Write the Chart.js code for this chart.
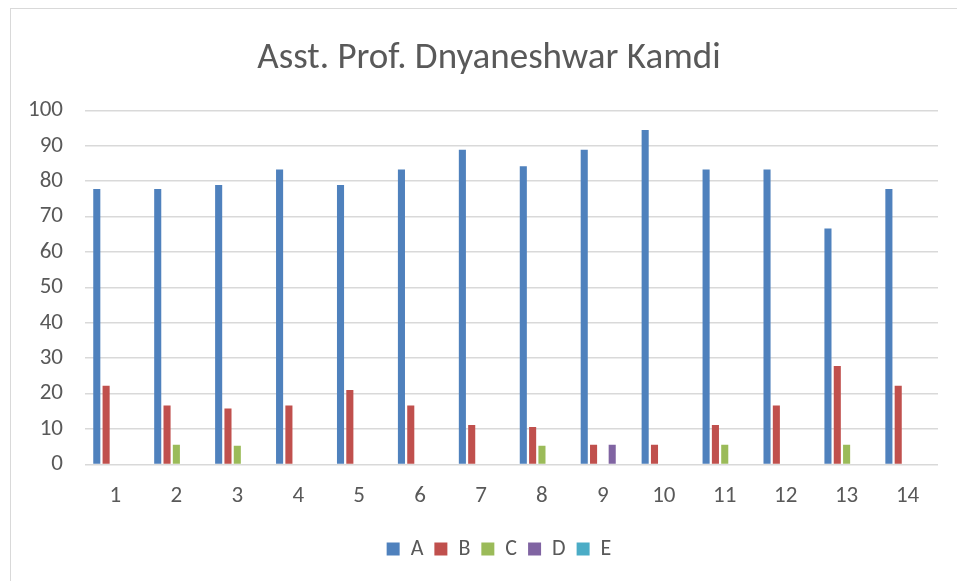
<!DOCTYPE html>
<html>
<head>
<meta charset="utf-8">
<script src="https://cdn.jsdelivr.net/npm/chart.js@4/dist/chart.umd.min.js"></script>
<style>
  html, body { margin: 0; padding: 0; background: #fff; }
  #frame { position: absolute; left: 10px; top: 8px; width: 960px; height: 590px; border: 1px solid #d9d9d9; }
  #wrap { position: absolute; left: 0; top: 0; width: 957px; height: 581px; }
</style>
</head>
<body>
<div id="frame"></div>
<div id="wrap"><canvas id="mycanvas"></canvas></div>
<script>
var labels = ["1","2","3","4","5","6","7","8","9","10","11","12","13","14"];
var seriesA = [77.78, 77.78, 78.95, 83.33, 78.95, 83.33, 88.89, 84.21, 88.89, 94.44, 83.33, 83.33, 66.67, 77.78];
var seriesB = [22.22, 16.67, 15.79, 16.67, 21.05, 16.67, 11.11, 10.53, 5.56, 5.56, 11.11, 16.67, 27.78, 22.22];
var seriesC = [0, 5.56, 5.26, 0, 0, 0, 0, 5.26, 0, 0, 5.56, 0, 5.56, 0];
var seriesD = [0, 0, 0, 0, 0, 0, 0, 0, 5.56, 0, 0, 0, 0, 0];
var seriesE = [0, 0, 0, 0, 0, 0, 0, 0, 0, 0, 0, 0, 0, 0];

var textColor = '#595959';
var fontFam = 'Carlito, Calibri, "Liberation Sans", sans-serif';

function ds(label, color, data) {
  return {
    label: label,
    backgroundColor: color,
    borderColor: color,
    borderWidth: 0,
    data: data,
    categoryPercentage: 0.765,
    barPercentage: 0.76
  };
}

var chartdata = {
  labels: labels,
  datasets: [
    ds('A', '#4F81BD', seriesA),
    ds('B', '#C0504D', seriesB),
    ds('C', '#9BBB59', seriesC),
    ds('D', '#8064A2', seriesD),
    ds('E', '#4BACC6', seriesE)
  ]
};

// title and legend sit a bit right of centre in the original
var shiftBlocks = {
  id: 'shiftBlocks',
  afterLayout: function(chart) {
    if (chart.titleBlock) chart.titleBlock.left += 34;
    if (chart.legend) chart.legend.left += 54;
  }
};

var ctx = document.getElementById('mycanvas');
var barGraph = new Chart(ctx, {
  type: 'bar',
  data: chartdata,
  plugins: [shiftBlocks],
  options: {
    responsive: true,
    maintainAspectRatio: false,
    animation: false,
    layout: { padding: { left: 6, right: 19, top: 37, bottom: 11 } },
    plugins: {
      title: {
        display: true,
        text: 'Asst. Prof. Dnyaneshwar Kamdi',
        color: textColor,
        font: { family: fontFam, size: 37, weight: 'normal' },
        padding: { top: 0, bottom: 29 }
      },
      legend: {
        position: 'bottom',
        labels: {
          color: textColor,
          font: { family: fontFam, size: 22 },
          boxWidth: 13,
          boxHeight: 13,
          padding: 11
        }
      },
      tooltip: { enabled: false }
    },
    scales: {
      x: {
        grid: { display: false },
        border: { display: false },
        afterFit: function(scale) { scale.height += 7; },
        ticks: { color: textColor, font: { family: fontFam, size: 23 }, padding: 10 }
      },
      y: {
        min: 0,
        max: 100,
        ticks: { stepSize: 10, color: textColor, font: { family: fontFam, size: 23 }, padding: 22 },
        grid: { color: '#d9d9d9', lineWidth: 1.5, drawTicks: false },
        border: { display: false }
      }
    }
  }
});
</script>
</body>
</html>
